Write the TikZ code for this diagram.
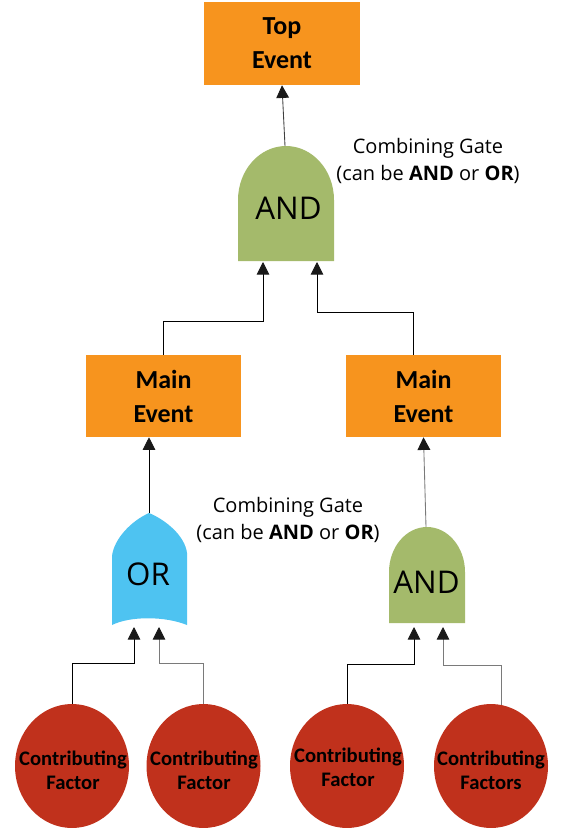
\documentclass[tikz,border=0pt]{standalone}
\usepackage{fontspec}
\setmainfont{Carlito}
\newfontfamily\osans{Open Sans}
\usetikzlibrary{arrows.meta,shapes.geometric}
\definecolor{evorange}{HTML}{F7941E}
\definecolor{gategreen}{HTML}{A4BA6B}
\definecolor{gateblue}{HTML}{4EC3F1}
\definecolor{factred}{HTML}{C0311C}
\definecolor{linegray}{HTML}{7A7A7A}
\tikzset{
  evbox/.style={rectangle, fill=evorange, inner sep=0pt, align=center,
    minimum width=116.25pt, minimum height=61.5pt,
    font=\bfseries\fontsize{19.5}{25.5}\selectfont},
  factor/.style={ellipse, fill=factred, inner sep=0pt,
    minimum width=85.5pt, minimum height=93pt},
  ftext/.style={align=center, inner sep=0pt,
    font=\bfseries\fontsize{15.5}{18.2}\selectfont},
  gatetext/.style={inner sep=0pt, font=\osans\fontsize{23.5}{28}\selectfont},
  note/.style={align=center, inner sep=0pt, font=\osans\fontsize{15}{20.25}\selectfont},
  conn/.style={line width=0.65pt, -{Triangle[length=9.5pt,width=9.5pt,color=black!90]}},
}
\begin{document}
\begin{tikzpicture}[x=0.75pt,y=-0.75pt]
\useasboundingbox (0,0) rectangle (564,828);

% event boxes
\node[evbox, minimum width=117pt, minimum height=62.25pt] (top) at (282,43.5) {Top\\Event};
\node[evbox] (mainL) at (163.5,396) {Main\\Event};
\node[evbox] (mainR) at (423.5,396) {Main\\Event};

% top AND gate
\fill[gategreen] (238,261) -- (238,200) .. controls (238,170.2) and (259.5,146) .. (286,146)
  .. controls (312.5,146) and (334,170.2) .. (334,200) -- (334,261) -- cycle;
\node[gatetext] (andtop) at (288.5,208.5) {AND};
\coordinate (g1out) at (285,146);
\coordinate (g1inL) at (263,262);
\coordinate (g1inR) at (317,262);

% OR gate
\fill[gateblue] (149,513) .. controls (131,521) and (114,539) .. (112,556) -- (112,625)
  .. controls (130,616) and (165,616) .. (187,625) -- (187,553)
  .. controls (185,536) and (166,520) .. (149,513) -- cycle;
\node[gatetext] (orgate) at (148,574) {OR};
\coordinate (g2out) at (149,513);
\coordinate (g2inL) at (134,627);
\coordinate (g2inR) at (159,627);

% lower AND gate
\fill[gategreen] (389,623) -- (389,572) .. controls (389,547.2) and (406,527) .. (427,527)
  .. controls (448,527) and (465,547.2) .. (465,572) -- (465,623) -- cycle;
\node[gatetext] (andlow) at (426.5,582) {AND};
\coordinate (g3out) at (426,527);
\coordinate (g3inL) at (414,627);
\coordinate (g3inR) at (443,627);

% notes
\node[note] (note1) at (428,161) {Combining Gate\\(can be \textbf{AND} or \textbf{OR})};
\node[note] (note2) at (288,520) {Combining Gate\\(can be \textbf{AND} or \textbf{OR})};

% contributing factors
\node[factor] (f1) at (72,766) {};
\node[factor] (f2) at (203.5,766) {};
\node[factor] (f3) at (347,766) {};
\node[factor] (f4) at (491,766) {};
\node[ftext] (t1) at (73,770) {Contributing\\Factor};
\node[ftext] (t2) at (204,770) {Contributing\\Factor};
\node[ftext] (t3) at (348,767) {Contributing\\Factor};
\node[ftext] (t4) at (491,770) {Contributing\\Factors};
\coordinate (f4top) at (501,705);

% connectors
\draw[conn, draw=black!75] (g1out) -- (top.south);
\draw[conn] (mainL.north) -- ++(0,-33) -| (g1inL);
\draw[conn] ([xshift=-7.5pt]mainR.north) -- ++(0,-42) -| (g1inR);
\draw[conn] (g2out) -- (g2out |- mainL.south);
\draw[conn, draw=linegray] (g3out) -- (mainR.south);
\draw[conn] (f1.north) -- ++(0,-40) -| (g2inL);
\draw[conn, draw=linegray] (f2.north) -- ++(0,-40) -| (g2inR);
\draw[conn] (f3.north) -- ++(0,-39) -| (g3inL);
\draw[conn, draw=linegray] (f4top) -- ++(0,-40) -| (g3inR);
\end{tikzpicture}
\end{document}
